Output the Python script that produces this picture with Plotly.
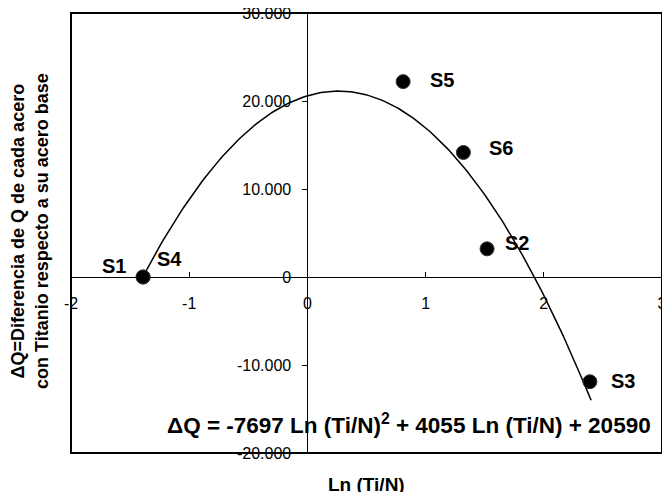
import numpy as np
import plotly.graph_objects as go

# ---- data ----
sample_names = ["S1", "S2", "S3", "S4", "S5", "S6"]
ln_ti_n = [-1.39, 1.52, 2.39, -1.39, 0.81, 1.32]
delta_q = [0, 3200, -11900, 0, 22200, 14150]

# trendline coefficients shown on the chart: dQ = a*x^2 + b*x + c
fit_coefs = [-7697, 4055, 20590]
fit_x_range = [-1.39, 2.40]

x_tick_vals = [-2, -1, 0, 1, 2, 3]
x_tick_text = ["-2", "-1", "0", "1", "2", "3"]
y_tick_vals = [-20000, -10000, 0, 10000, 20000, 30000]
y_tick_text = ["-20.000", "-10.000", "0", "10.000", "20.000", "30.000"]

# label offsets (pixels) for each sample label
label_dx = [-29, 30, 33, 26, 39, 38]
label_dy = [11, 6, 1, 18, 2, 4]

FONT = "Liberation Sans, Arial, sans-serif"

fx = np.linspace(fit_x_range[0], fit_x_range[1], 200)
fy = np.polyval(fit_coefs, fx)

fig = go.Figure()
fig.add_trace(go.Scatter(x=fx, y=fy, mode="lines",
                         line=dict(color="black", width=1.5),
                         hoverinfo="skip", showlegend=False))
fig.add_trace(go.Scatter(x=ln_ti_n, y=delta_q, mode="markers",
                         marker=dict(color="black", size=14,
                                     line=dict(color="#333333", width=1)),
                         text=sample_names, showlegend=False))

for n, x, y, dx, dy in zip(sample_names, ln_ti_n, delta_q, label_dx, label_dy):
    fig.add_annotation(x=x, y=y, text="<b>%s</b>" % n, showarrow=False,
                       xshift=dx, yshift=dy,
                       font=dict(family=FONT, size=20, color="black"))

fig.add_annotation(xref="paper", yref="paper", x=0.985, y=0.066,
                   xanchor="right", yanchor="middle", showarrow=False,
                   text="<b>\u0394Q = -7697 Ln (Ti/N)<sup>2</sup> + 4055 Ln (Ti/N) + 20590</b>",
                   font=dict(family=FONT, size=22.5, color="black"))

fig.add_annotation(xref="paper", yref="paper", x=-0.069, y=0.505,
                   xanchor="center", yanchor="middle", showarrow=False,
                   textangle=-90,
                   text="<b>\u0394Q=Diferencia de Q de cada acero<br>con Titanio respecto a su acero base</b>",
                   font=dict(family=FONT, size=18, color="black"))

fig.add_annotation(xref="paper", yref="paper", x=0.5, y=-0.072,
                   xanchor="center", yanchor="middle", showarrow=False,
                   text="<b>Ln (Ti/N)</b>",
                   font=dict(family=FONT, size=19, color="black"))

fig.add_shape(type="rect", xref="paper", yref="paper", x0=0, y0=0, x1=1, y1=1,
              line=dict(color="black", width=2), layer="above")

fig.update_xaxes(range=[-2, 3], anchor="free", position=0.4, automargin=False,
                 showline=True, linecolor="black", linewidth=1,
                 showgrid=False, zeroline=False,
                 tickmode="array", tickvals=x_tick_vals, ticktext=x_tick_text,
                 ticks="inside", ticklen=5, tickcolor="black",
                 ticklabelstandoff=12, ticklabeloverflow="allow",
                 tickfont=dict(family=FONT, size=16, color="black"))
fig.update_yaxes(range=[-20000, 30000], anchor="free", position=0.4, automargin=False,
                 showline=True, linecolor="black", linewidth=1,
                 showgrid=False, zeroline=False,
                 tickmode="array", tickvals=y_tick_vals, ticktext=y_tick_text,
                 ticks="outside", ticklen=5, tickcolor="black",
                 ticklabelstandoff=8, ticklabeloverflow="allow",
                 tickfont=dict(family=FONT, size=16, color="black"))

# page body adds an 8px offset, so the figure is sized to fill the window
fig.update_layout(width=662, height=484,
                  margin=dict(l=63, r=8, t=5, b=39, autoexpand=False),
                  paper_bgcolor="white", plot_bgcolor="white",
                  font=dict(family=FONT, color="black"))

fig.write_html("out.html")
